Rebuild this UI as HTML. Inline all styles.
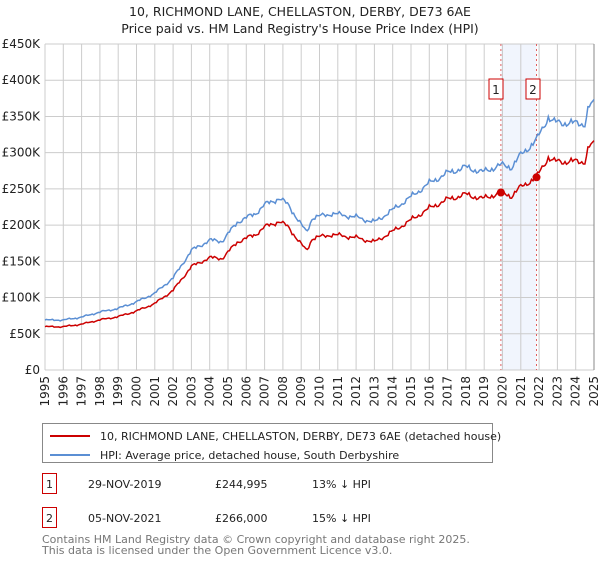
<!DOCTYPE html>
<html><head><meta charset="utf-8"><style>
body{margin:0;background:#fff;width:600px;height:560px;overflow:hidden;font-family:"DejaVu Sans","Liberation Sans",sans-serif;}
svg text{font-family:"DejaVu Sans","Liberation Sans",sans-serif;}
</style></head><body>
<svg id="s" width="600" height="560" xmlns="http://www.w3.org/2000/svg">
<text x="300" y="16" text-anchor="middle" font-size="12.5" fill="#222">10, RICHMOND LANE, CHELLASTON, DERBY, DE73 6AE</text>
<text x="300" y="33" text-anchor="middle" font-size="12.5" fill="#222">Price paid vs. HM Land Registry's House Price Index (HPI)</text>
<rect x="500.9" y="44" width="35.6" height="326" fill="#eef3fc" opacity="0.8"/>
<g id="grid"></g>
<line x1="500.9" y1="44" x2="500.9" y2="370" stroke="#e06060" stroke-dasharray="2,3" stroke-width="1"/>
<line x1="536.5" y1="44" x2="536.5" y2="370" stroke="#e06060" stroke-dasharray="2,3" stroke-width="1"/>
<path id="blue" fill="none" stroke="#5b8fd4" stroke-width="1.5"/>
<path id="red" fill="none" stroke="#cc0000" stroke-width="1.5"/>
<circle cx="500.9" cy="192.5" r="4" fill="#cc0000"/>
<circle cx="536.5" cy="177.3" r="4" fill="#cc0000"/>
<rect x="489" y="79" width="14" height="20" fill="#fff" stroke="#cc0000"/>
<text x="496" y="94" text-anchor="middle" font-size="12" fill="#222">1</text>
<rect x="526" y="79" width="14" height="20" fill="#fff" stroke="#cc0000"/>
<text x="533" y="94" text-anchor="middle" font-size="12" fill="#222">2</text>
<g id="labels" font-size="12" fill="#222"></g>
<rect x="42.5" y="423.5" width="450" height="39" fill="#fff" stroke="#888"/>
<line x1="50" y1="436" x2="90" y2="436" stroke="#cc0000" stroke-width="2"/>
<line x1="50" y1="455" x2="90" y2="455" stroke="#5b8fd4" stroke-width="2"/>
<text x="100" y="440" font-size="11" fill="#222">10, RICHMOND LANE, CHELLASTON, DERBY, DE73 6AE (detached house)</text>
<text x="100" y="459" font-size="11" fill="#222">HPI: Average price, detached house, South Derbyshire</text>
<rect x="42.5" y="473.5" width="14" height="20" fill="#fff" stroke="#cc0000"/>
<text x="49.5" y="488" text-anchor="middle" font-size="11" fill="#222">1</text>
<text x="88" y="488" font-size="11" fill="#222">29-NOV-2019</text>
<text x="215" y="488" font-size="11" fill="#222">£244,995</text>
<text x="312" y="488" font-size="11" fill="#222">13% ↓ HPI</text>
<rect x="42.5" y="507.5" width="14" height="20" fill="#fff" stroke="#cc0000"/>
<text x="49.5" y="522" text-anchor="middle" font-size="11" fill="#222">2</text>
<text x="88" y="522" font-size="11" fill="#222">05-NOV-2021</text>
<text x="215" y="522" font-size="11" fill="#222">£266,000</text>
<text x="312" y="522" font-size="11" fill="#222">15% ↓ HPI</text>
<text x="42" y="543" font-size="11" fill="#777">Contains HM Land Registry data © Crown copyright and database right 2025.</text>
<text x="42" y="554" font-size="11" fill="#777">This data is licensed under the Open Government Licence v3.0.</text>
</svg>
<script>
var X0=45,X1=594,Y0=370,Y1=44;
function X(y){return X0+(y-1995)*(X1-X0)/30}
function Y(v){return Y0-v*(Y0-Y1)/450}
var g='',l='';
for(var yr=1995;yr<=2025;yr++){var x=X(yr);g+='<line x1="'+x+'" y1="44" x2="'+x+'" y2="370" stroke="#ccc"/>';
l+='<text transform="translate('+(x+4)+',376) rotate(-90)" text-anchor="end">'+yr+'</text>';}
for(var v=0;v<=450;v+=50){var y=Y(v);g+='<line x1="45" y1="'+y+'" x2="594" y2="'+y+'" stroke="#ccc"/>';
l+='<text x="40" y="'+(y+4)+'" text-anchor="end">'+(v==0?'£0':'£'+v+'K')+'</text>';}
g+='<line x1="594" y1="44" x2="594" y2="370" stroke="#888"/>';
document.getElementById('grid').innerHTML=g;document.getElementById('labels').innerHTML=l;
var P=[[1995,69],[1996,69],[1997,73],[1998,80],[1999,85],[2000,94],[2001,106],[2002,127],[2003,165],[2004,179],[2004.7,178],[2005.5,204],[2006.5,216],[2007,228],[2007.8,237],[2008.3,228],[2008.93,203],[2009.3,190],[2009.6,210],[2010.7,216],[2012,211],[2013,204],[2014,221],[2015,239],[2016,258],[2017,272],[2018,280],[2018.9,273],[2019.91,283],[2020.5,280],[2021,297],[2021.85,317],[2022.5,349],[2022.8,342],[2023.5,341],[2024.5,340],[2024.7,363],[2025,368]];
function hpi(t){for(var i=0;i<P.length-1;i++){if(t<=P[i+1][0]){var a=P[i],b=P[i+1];return a[1]+(b[1]-a[1])*(t-a[0])/(b[0]-a[0]);}}return P[P.length-1][1];}
function f(t){if(t<=2019.91)return 0.8657;if(t<=2021.85)return 0.8657+(0.839-0.8657)*(t-2019.91)/1.94;return 0.839+(0.848-0.839)*(t-2021.85)/3.15;}
var b='',r='';
for(var m=0;m<=360;m++){var t=1995+m/12;var n=Math.sin(m*1.7)*1.8+Math.sin(m*0.53)*2.5+Math.sin(m*2.9)*1;var h=hpi(t)+n*(hpi(t)/250);
var c=m?'L':'M';b+=c+X(t).toFixed(1)+','+Y(h).toFixed(1);r+=c+X(t).toFixed(1)+','+Y(h*f(t)).toFixed(1);}
document.getElementById('blue').setAttribute('d',b);document.getElementById('red').setAttribute('d',r);
</script>
</body></html>
